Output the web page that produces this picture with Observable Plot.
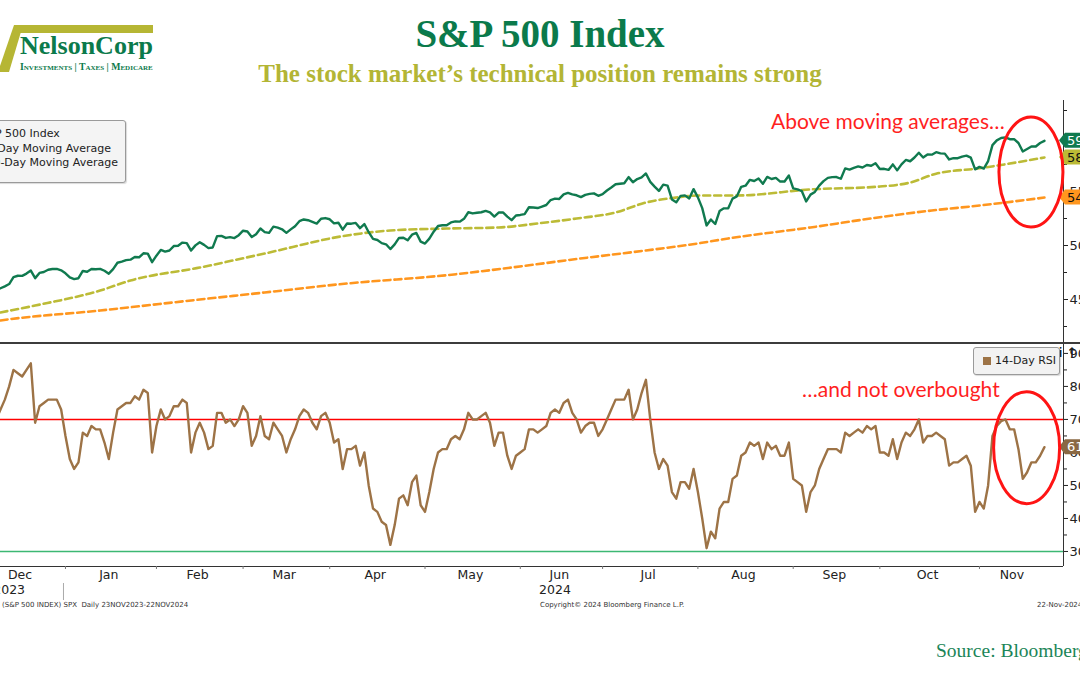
<!DOCTYPE html>
<html>
<head>
<meta charset="utf-8">
<script src="https://cdn.jsdelivr.net/npm/d3@7"></script>
<script src="https://cdn.jsdelivr.net/npm/@observablehq/plot@0.6"></script>
<style>
  html, body { margin:0; padding:0; background:#fff; }
  body { width:1080px; height:675px; position:relative; overflow:hidden; font-family:"DejaVu Sans", sans-serif; }
  .abs { position:absolute; }
  #title { left:0; width:1080px; top:12px; text-align:center; font-family:"Liberation Serif", serif; font-weight:bold; font-size:39px; line-height:44px; color:#0b7a4b; }
  #subtitle { left:0; width:1080px; top:60px; text-align:center; font-family:"Liberation Serif", serif; font-weight:bold; font-size:25px; line-height:28px; color:#b3b535; }
  #logoName { left:20px; top:31px; font-family:"Liberation Serif", serif; font-weight:bold; font-size:26px; line-height:30px; color:#0b7a4b; }
  #logoTag { left:20px; top:62px; font-family:"Liberation Serif", serif; font-weight:bold; font-size:9.8px; line-height:10px; color:#0b7a4b; font-variant:small-caps; white-space:nowrap; }
  #topPlot { left:0; top:100px; }
  #botPlot { left:0; top:344px; }
  #sep { left:0; top:341.5px; width:1080px; height:2.5px; background:#3c3c3c; }
  #legTop { right:954px; top:120px; height:55px; background:#f4f4f4; border:1px solid #9a9a9a; border-radius:3px; padding:6px 7px 0 8px; font-size:11px; color:#222; box-shadow:1px 1px 1px rgba(0,0,0,0.15); }
  #legTop .row { height:14.5px; line-height:14.5px; white-space:nowrap; }
  .sw { display:inline-block; width:8px; height:8px; margin-right:4px; vertical-align:middle; }
  #legRsi { left:973px; top:347px; width:85px; height:26px; background:#f2f2f2; border:1px solid #9a9a9a; border-radius:3px; font-size:11px; line-height:26px; color:#222; white-space:nowrap; box-shadow:1px 1px 1px rgba(0,0,0,0.15); }
  #legRsi .sw { margin-left:9px; }
  .anno { font-family:"Lato", sans-serif; font-size:21px; line-height:25px; color:#ff1f1f; white-space:nowrap; }
  #anno1 { left:771px; top:108px; }
  #anno2 { left:802px; top:376px; }
  .foot { font-size:7px; line-height:9px; color:#333; white-space:nowrap; top:601px; }
  #source { left:936px; top:640px; font-family:"Liberation Serif", serif; font-size:19.5px; line-height:22px; color:#1b8558; white-space:nowrap; }
</style>
</head>
<body>
<svg class="abs" style="left:0;top:0" width="160" height="80">
  <polygon points="14,25 153,25 153,33 18,33" fill="#b6b634"></polygon>
  <polygon points="14,25 23,25 9,72 0,72 0,66" fill="#b6b634"></polygon>
</svg>
<div id="logoName" class="abs">NelsonCorp</div>
<div id="logoTag" class="abs">Investments | Taxes | Medicare</div>
<div id="title" class="abs">S&amp;P 500 Index</div>
<div id="subtitle" class="abs">The stock market’s technical position remains strong</div>
<div id="topPlot" class="abs"></div>
<div id="botPlot" class="abs"></div>
<div id="sep" class="abs"></div>
<div id="legTop" class="abs"></div>
<div id="legRsi" class="abs"></div>
<div id="anno1" class="abs anno">Above moving averages…</div>
<div id="anno2" class="abs anno">…and not overbought</div>
<div class="abs foot" style="left:2px">(S&amp;P 500 INDEX) SPX&nbsp; Daily 23NOV2023-22NOV2024</div>
<div class="abs foot" style="left:540px">Copyright© 2024 Bloomberg Finance L.P.</div>
<div class="abs foot" style="left:1037px">22-Nov-2024</div>
<div id="source" class="abs">Source: Bloomberg</div>

<script>
// ---------- DATA ----------
const seriesNames = ["S&P 500 Index", "50-Day Moving Average", "200-Day Moving Average"];
const rsiName = "14-Day RSI";
const monthNames = ["Jan","Feb","Mar","Apr","May","Jun","Jul","Aug","Sep","Oct","Nov","Dec"];

const tradingDays = [
  ["2023-11", [24,27,28,29,30]],
  ["2023-12", [1,4,5,6,7,8,11,12,13,14,15,18,19,20,21,22,26,27,28,29]],
  ["2024-01", [2,3,4,5,8,9,10,11,12,16,17,18,19,22,23,24,25,26,29,30,31]],
  ["2024-02", [1,2,5,6,7,8,9,12,13,14,15,16,20,21,22,23,26,27,28,29]],
  ["2024-03", [1,4,5,6,7,8,11,12,13,14,15,18,19,20,21,22,25,26,27,28]],
  ["2024-04", [1,2,3,4,5,8,9,10,11,12,15,16,17,18,19,22,23,24,25,26,29,30]],
  ["2024-05", [1,2,3,6,7,8,9,10,13,14,15,16,17,20,21,22,23,24,28,29,30,31]],
  ["2024-06", [3,4,5,6,7,10,11,12,13,14,17,18,20,21,24,25,26,27,28]],
  ["2024-07", [1,2,3,5,8,9,10,11,12,15,16,17,18,19,22,23,24,25,26,29,30,31]],
  ["2024-08", [1,2,5,6,7,8,9,12,13,14,15,16,19,20,21,22,23,26,27,28,29,30]],
  ["2024-09", [3,4,5,6,9,10,11,12,13,16,17,18,19,20,23,24,25,26,27,30]],
  ["2024-10", [1,2,3,4,7,8,9,10,11,14,15,16,17,18,21,22,23,24,25,28,29,30,31]],
  ["2024-11", [1,4,5,6,7,8,11,12,13,14,15,18,19,20,21,22]]
];

const spxClose = [
  4559,4550,4555,4551,4568,
  4595,4569,4567,4549,4585,4604,4622,4643,4707,4720,4719,4740,4768,4698,4746,4755,4775,4782,4783,4770,
  4743,4705,4689,4697,4764,4757,4783,4780,4784,4766,4739,4781,4840,4851,4865,4869,4894,4891,4928,4925,4846,
  4906,4959,4943,4954,4995,4998,5027,5022,4953,5001,5030,5006,4976,4982,5087,5089,5070,5078,5069,5096,
  5137,5130,5079,5105,5157,5124,5117,5175,5165,5150,5117,5149,5179,5225,5241,5234,5218,5203,5248,5254,
  5243,5205,5211,5147,5204,5202,5209,5161,5199,5123,5061,5051,5022,5011,4967,5010,5070,5072,5048,5100,5116,5036,
  5018,5064,5128,5181,5187,5188,5214,5223,5221,5247,5308,5297,5303,5308,5321,5307,5268,5305,5306,5267,5235,5278,
  5283,5291,5354,5352,5347,5361,5375,5421,5434,5431,5473,5487,5473,5465,5448,5469,5478,5483,5460,
  5475,5509,5537,5567,5572,5577,5633,5585,5615,5631,5667,5589,5545,5505,5564,5555,5427,5400,5459,5464,5436,5522,
  5446,5346,5186,5240,5199,5319,5344,5344,5434,5455,5543,5554,5608,5597,5621,5571,5635,5616,5626,5592,5592,5648,
  5529,5520,5503,5408,5471,5496,5554,5596,5626,5633,5634,5618,5714,5703,5719,5732,5722,5745,5738,5762,
  5709,5710,5700,5751,5696,5751,5792,5780,5815,5859,5815,5843,5841,5864,5853,5851,5797,5809,5808,5823,5832,5813,5705,
  5728,5712,5782,5929,5973,5995,6001,5984,5985,5949,5870,5893,5917,5917,5949,5969.38
];

const rsi14 = [
  68,66,66,65,67,
  70,66,65,63,70,73,76,80,85,84,83,85,87,69,74,75,76,76,76,73,
  65,58,55,57,66,65,68,67,67,63,58,66,73,74,75,75,77,76,79,78,60,
  68,73,70,71,74,74,76,75,60,66,69,66,61,62,72,72,69,70,68,70,
  74,72,62,65,71,65,64,69,67,65,60,64,67,71,73,72,69,67,71,72,
  69,63,64,55,61,61,62,56,60,50,43,42,39,38,32,38,46,47,44,51,53,44,
  42,48,55,60,61,61,64,65,64,67,72,70,70,71,72,69,62,66,66,59,55,59,
  60,61,67,67,66,67,68,72,73,72,75,76,72,70,66,68,69,69,65,
  67,70,73,76,76,76,79,70,73,78,82,70,60,55,58,56,48,46,51,51,49,55,
  48,40,31,36,34,43,45,45,52,53,59,60,63,62,63,58,63,61,62,59,59,63,
  52,51,50,42,48,50,55,58,61,61,61,60,66,65,66,67,66,68,67,68,
  60,60,59,64,58,63,66,65,67,70,63,65,65,66,65,64,56,57,57,58,59,56,42,
  45,43,50,65,68,69.5,70,67,67,61,52,54,57,57,59,61.6
];

const ma50Dates = ["2023-12-01","2023-12-08","2023-12-20","2024-01-12","2024-01-24","2024-02-15","2024-03-08","2024-04-05","2024-04-19","2024-05-08","2024-05-24","2024-06-07","2024-06-21","2024-07-05","2024-07-16","2024-07-25","2024-08-01","2024-08-14","2024-09-09","2024-10-01","2024-10-10","2024-10-18","2024-11-01","2024-11-22"];
const ma50Values = [4340,4380,4444,4583,4676,4796,4926,5093,5139,5157,5167,5204,5250,5306,5398,5444,5463,5463,5519,5546,5583,5665,5715,5815];

const ma200Dates = ["2023-12-01","2023-12-08","2024-01-12","2024-02-15","2024-03-08","2024-04-05","2024-05-08","2024-05-30","2024-06-21","2024-07-16","2024-08-01","2024-08-12","2024-09-09","2024-10-01","2024-10-17","2024-11-01","2024-11-22"];
const ma200Values = [4275,4306,4398,4500,4565,4648,4725,4796,4875,4954,5019,5065,5167,5262,5324,5370,5444];

const priceTicks = [4500,5000,5500,6000];
const priceMinorTicks = [4250,4750,5250,5750,6250];
const rsiTicks = [30,40,50,60,70,80,90];
const rsiMinorTicks = [35,45,55,65,75,85];
const overbought = 70;
const oversold = 30;

// ---------- BUILD ----------
const dayKeys = tradingDays.flatMap(([ym, ds]) => ds.map(d => ym + "-" + String(d).padStart(2, "0")));
const idxOf = new Map(dayKeys.map((d, i) => [d, i]));
const series = dayKeys.map((d, i) => ({i, key: d, close: spxClose[i], rsi: rsi14[i]}));
const ma50Data = ma50Dates.map((d, k) => ({i: idxOf.get(d), v: ma50Values[k]}));
const ma200Data = ma200Dates.map((d, k) => ({i: idxOf.get(d), v: ma200Values[k]}));
const months = d3.groups(series, r => r.key.slice(0, 7)).map(([k, rs]) => ({
  first: rs[0].i, mid: (rs[0].i + rs[rs.length - 1].i) / 2, name: monthNames[+k.slice(5, 7) - 1]
}));
const years = d3.groups(series, r => r.key.slice(0, 4)).map(([k, rs]) => ({
  first: rs[0].i, mid: (rs[0].i + rs[rs.length - 1].i) / 2, name: k
}));

const xDomain = [10.0, 255.4];
const priceDomain = [4092.6, 6342.6];
const rsiDomain = [25.45, 92.7];

const C = {price: "#107a4f", ma50: "#bcbb36", ma200: "#ff961e", rsi: "#9d7346"};
const baseStyle = {fontFamily: "DejaVu Sans, sans-serif", fontSize: "13px", color: "#222", background: "transparent", overflow: "visible"};
const plain = d3.format("d");

const topPlot = Plot.plot({
  width: 1080, height: 243,
  marginLeft: 0, marginRight: 17, marginTop: 0, marginBottom: 0,
  style: baseStyle,
  x: {domain: xDomain, axis: null},
  y: {domain: priceDomain},
  marks: [
    Plot.axisY(priceTicks, {anchor: "right", tickSize: 4, tickPadding: 2, color: "#222", tickFormat: plain}),
    Plot.axisY(priceMinorTicks, {anchor: "right", tickSize: 3, tickFormat: () => "", color: "#222"}),
    Plot.line(ma200Data, {x: "i", y: "v", stroke: C.ma200, strokeWidth: 2.6, strokeDasharray: "7,4", curve: "monotone-x", clip: true}),
    Plot.line(ma50Data, {x: "i", y: "v", stroke: C.ma50, strokeWidth: 2.6, strokeDasharray: "7,4", curve: "monotone-x", clip: true}),
    Plot.line(series, {x: "i", y: "close", stroke: C.price, strokeWidth: 2.4, clip: true}),
    Plot.ruleX([xDomain[1]], {stroke: "#333", strokeWidth: 1})
  ]
});
document.getElementById("topPlot").appendChild(topPlot);

const botPlot = Plot.plot({
  width: 1080, height: 262,
  marginLeft: 0, marginRight: 17, marginTop: 0, marginBottom: 40,
  style: baseStyle,
  x: {domain: xDomain},
  y: {domain: rsiDomain},
  marks: [
    Plot.ruleY([overbought], {stroke: "#ff0000", strokeWidth: 1.4}),
    Plot.ruleY([oversold], {stroke: "#3cb873", strokeWidth: 1.4}),
    Plot.axisY(rsiTicks, {anchor: "right", tickSize: 4, tickPadding: 2, color: "#222", tickFormat: plain}),
    Plot.axisY(rsiMinorTicks, {anchor: "right", tickSize: 3, tickFormat: () => "", color: "#222"}),
    Plot.line(series, {x: "i", y: "rsi", stroke: C.rsi, strokeWidth: 2.4, clip: true}),
    Plot.ruleX([xDomain[1]], {stroke: "#333", strokeWidth: 1}),
    Plot.ruleY([rsiDomain[0]], {stroke: "#333", strokeWidth: 1}),
    Plot.axisX(months.slice(1).map(m => m.first), {anchor: "bottom", tickSize: 3, tickFormat: () => "", color: "#777"}),
    Plot.text(months, {x: "mid", text: "name", frameAnchor: "bottom", dy: 12, fontSize: 12.5, fill: "#222"}),
    Plot.text(years, {x: "mid", text: "name", frameAnchor: "bottom", dy: 27, fontSize: 12.5, fill: "#222"})
  ]
});
document.getElementById("botPlot").appendChild(botPlot);

// ---------- overlays using plot scales ----------
function tag(svg, y, text, bg, fg) {
  const g = d3.select(svg).append("g");
  g.append("polygon").attr("points", `1059,${y} 1065,${y-7.5} 1085,${y-7.5} 1085,${y+7.5} 1065,${y+7.5}`).attr("fill", bg);
  g.append("text").attr("x", 1067).attr("y", y).attr("dy", "0.36em").attr("fill", fg)
    .attr("text-anchor", "start").attr("font-size", 13).attr("font-family", "DejaVu Sans, sans-serif").text(text);
}
const xT = topPlot.scale("x"), yT = topPlot.scale("y");
const xB = botPlot.scale("x"), yB = botPlot.scale("y");
tag(topPlot, yT.apply(ma200Values.at(-1)), ma200Values.at(-1).toFixed(2), C.ma200, "#111");
tag(topPlot, yT.apply(ma50Values.at(-1)), ma50Values.at(-1).toFixed(2), C.ma50, "#111");
tag(topPlot, yT.apply(spxClose.at(-1)), spxClose.at(-1).toFixed(2), C.price, "#fff");
tag(botPlot, yB.apply(rsi14.at(-1)), rsi14.at(-1).toFixed(2), "#8a6843", "#fff");

// red annotation ellipses (centred on data coordinates)
d3.select(topPlot).append("ellipse")
  .attr("cx", xT.apply(idxOf.get("2024-11-19"))).attr("cy", yT.apply(5676))
  .attr("rx", 32).attr("ry", 55).attr("fill", "none").attr("stroke", "#ff1414").attr("stroke-width", 3);
d3.select(botPlot).append("ellipse")
  .attr("cx", xB.apply(idxOf.get("2024-11-18"))).attr("cy", yB.apply(61.3))
  .attr("rx", 33).attr("ry", 56).attr("fill", "none").attr("stroke", "#ff1414").attr("stroke-width", 3);

// year divider below the axis
const yb = yB.apply(rsiDomain[0]);
d3.select(botPlot).append("line")
  .attr("x1", xB.apply(years[1].first) - 1.5).attr("x2", xB.apply(years[1].first) - 1.5)
  .attr("y1", yb + 17).attr("y2", yb + 34).attr("stroke", "#aaa").attr("stroke-width", 1);

// legends
const legColors = [C.price, C.ma50, C.ma200];
document.getElementById("legTop").innerHTML = seriesNames.map((n, k) =>
  `<div class="row"><span class="sw" style="background:${legColors[k]}"></span>${n.replace("&", "&amp;")}</div>`).join("");
document.getElementById("legRsi").innerHTML = `<span class="sw" style="background:${C.rsi}"></span>${rsiName}`;
</script>
</body>
</html>
